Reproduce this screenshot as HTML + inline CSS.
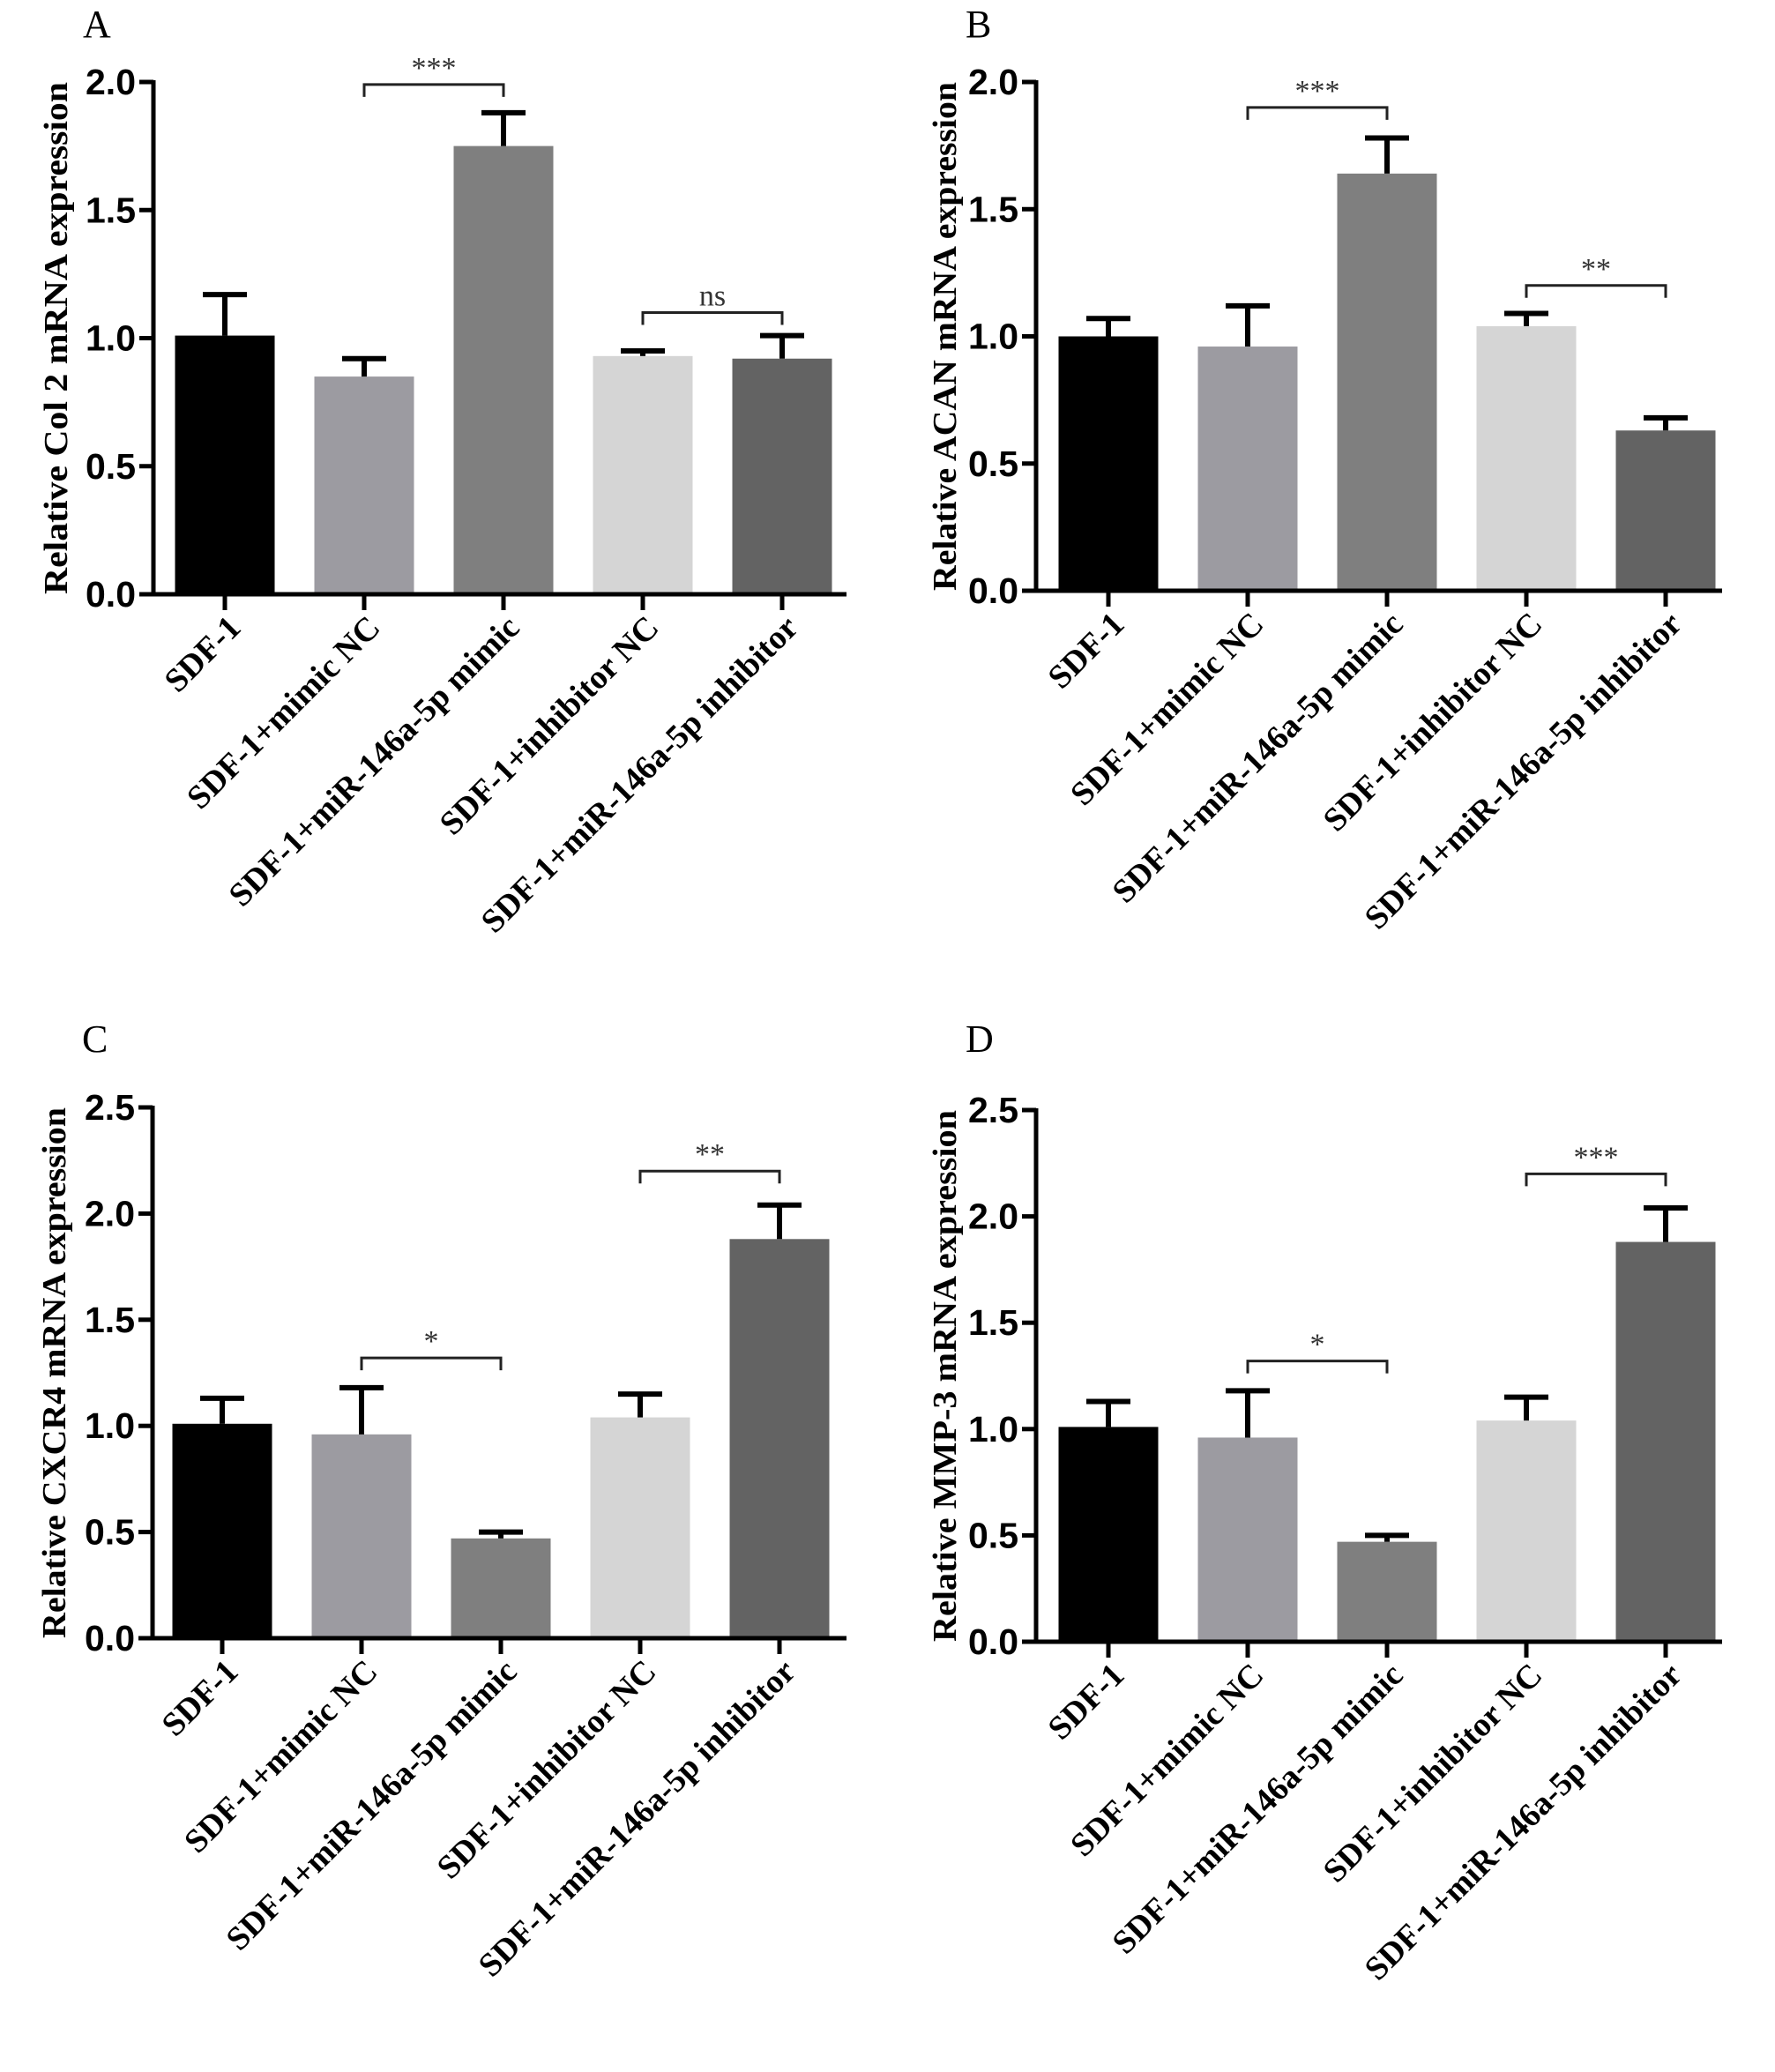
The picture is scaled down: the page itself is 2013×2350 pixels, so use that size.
<!DOCTYPE html>
<html><head><meta charset="utf-8">
<style>
html,body{margin:0;padding:0;background:#fff;}
svg{display:block;}
</style></head>
<body>
<svg id="fig" width="2013" height="2350" viewBox="0 0 2013 2350" xmlns="http://www.w3.org/2000/svg"></svg>
<script>
const categories = ["SDF-1","SDF-1+mimic NC","SDF-1+miR-146a-5p mimic","SDF-1+inhibitor NC","SDF-1+miR-146a-5p inhibitor"];
const colors = ["#000000","#9c9ba1","#7f7f7f","#d5d5d5","#636363"];
const valuesA = [1.01,0.85,1.75,0.93,0.92];
const errorsA = [0.16,0.07,0.13,0.02,0.09];
const valuesB = [1.00,0.96,1.64,1.04,0.63];
const errorsB = [0.07,0.16,0.14,0.05,0.05];
const valuesC = [1.01,0.96,0.47,1.04,1.88];
const errorsC = [0.12,0.22,0.03,0.11,0.16];
const valuesD = [1.01,0.96,0.47,1.04,1.88];
const errorsD = [0.12,0.22,0.03,0.11,0.16];
const ticksA = [0,0.5,1.0,1.5,2.0];
const ticksC = [0,0.5,1.0,1.5,2.0,2.5];
const sigA = [[1,2,1.99,"***"],[3,4,1.10,"ns"]];
const sigB = [[1,2,1.90,"***"],[3,4,1.20,"**"]];
const sigC = [[1,2,1.32,"*"],[3,4,2.20,"**"]];
const sigD = [[1,2,1.32,"*"],[3,4,2.20,"***"]];

const NS = "http://www.w3.org/2000/svg";
const svg = document.getElementById('fig');
function el(tag, attrs, parent){
  const e = document.createElementNS(NS, tag);
  for (const k in attrs) e.setAttribute(k, attrs[k]);
  (parent||svg).appendChild(e);
  return e;
}

function panel(p){
  const g = el('g', {});
  
  
  const ymax = p.ticks[p.ticks.length-1];
  const yScale = v => p.y0 - (v / ymax) * (p.y0 - p.yTop);
  const xScale = i => p.cx0 + i * p.step;
  const bw = 113;

  const letter = el('text', {x:p.ax-80, y:p.letterY, 'font-family':'Liberation Serif, serif', 'font-size':44, fill:'#000'}, g);
  letter.textContent = p.letter;
  
  

  p.values.forEach((v,i)=>{
    const r = el('rect', {x:xScale(i)-bw/2, y:yScale(v), width:bw, height:p.y0-yScale(v), fill:colors[i]}, g);
    
    
    const top = yScale(v + p.errors[i]);
    const e1 = el('line', {x1:xScale(i), x2:xScale(i), y1:yScale(v), y2:top, stroke:'#000', 'stroke-width':6}, g);
    
    
    const e2 = el('line', {x1:xScale(i)-25, x2:xScale(i)+25, y1:top, y2:top, stroke:'#000', 'stroke-width':6}, g);
    
    
  });

  const ya = el('line', {x1:p.ax, x2:p.ax, y1:p.yTop-2, y2:p.y0+2, stroke:'#000', 'stroke-width':5}, g);
  
  
  const xa = el('line', {x1:p.ax-16, x2:p.axEnd, y1:p.y0, y2:p.y0, stroke:'#000', 'stroke-width':5}, g);
  
  

  p.ticks.forEach(t=>{
    const y = yScale(t);
    el('line', {x1:p.ax-16, x2:p.ax, y1:y, y2:y, stroke:'#000', 'stroke-width':5}, g);
    const tl = el('text', {x:p.ax-20, y:y+14, 'text-anchor':'end', 'font-family':'Liberation Sans, sans-serif', 'font-weight':'bold', 'font-size':41, fill:'#000'}, g);
    tl.textContent = t.toFixed(1);
    
    
  });

  categories.forEach((c,i)=>{
    const x = xScale(i);
    el('line', {x1:x, x2:x, y1:p.y0, y2:p.y0+18, stroke:'#000', 'stroke-width':5}, g);
    const lx = x + 20, ly = p.y0 + 40;
    const t = el('text', {x:lx, y:ly, 'text-anchor':'end', transform:`rotate(-45 ${lx} ${ly})`, 'font-family':'Liberation Serif, serif', 'font-weight':'bold', 'font-size':38, fill:'#000'}, g);
    t.textContent = c;
    
    
  });

  const tx = p.titleX, ty = (p.yTop + p.y0)/2;
  const title = el('text', {x:tx, y:ty, 'text-anchor':'middle', transform:`rotate(-90 ${tx} ${ty})`, 'font-family':'Liberation Serif, serif', 'font-weight':'bold', 'font-size':38, textLength:p.y0-p.yTop, lengthAdjust:'spacingAndGlyphs', fill:'#000'}, g);
  title.textContent = p.title;
  
  

  p.sig.forEach(s=>{
    const x1 = xScale(s[0]), x2 = xScale(s[1]), y = yScale(s[2]);
    const br = el('path', {d:`M${x1} ${y+14} V${y} H${x2} V${y+14}`, fill:'none', stroke:'#222', 'stroke-width':3}, g);
    
    
    const st = el('text', {x:(x1+x2)/2, y:y-8, 'text-anchor':'middle', 'font-family':'Liberation Serif, serif', 'font-size':34, fill:'#333'}, g);
    st.textContent = s[3];
    
    
  });
}

panel({letter:'A', ax:174, axEnd:960, yTop:93, y0:674, cx0:255, step:158, ticks:ticksA, values:valuesA, errors:errorsA, sig:sigA, titleX:76, letterY:42, title:'Relative Col 2 mRNA expression'});
panel({letter:'B', ax:1175, axEnd:1953, yTop:93, y0:670, cx0:1257, step:158, ticks:ticksA, values:valuesB, errors:errorsB, sig:sigB, titleX:1084, letterY:42, title:'Relative ACAN mRNA expression'});
panel({letter:'C', ax:173, axEnd:960, yTop:1256, y0:1858, cx0:252, step:158, ticks:ticksC, values:valuesC, errors:errorsC, sig:sigC, titleX:74, letterY:1193, title:'Relative CXCR4 mRNA expression'});
panel({letter:'D', ax:1175, axEnd:1953, yTop:1259, y0:1862, cx0:1257, step:158, ticks:ticksC, values:valuesD, errors:errorsD, sig:sigD, titleX:1084, letterY:1193, title:'Relative MMP-3 mRNA expression'});
</script>
</body></html>
